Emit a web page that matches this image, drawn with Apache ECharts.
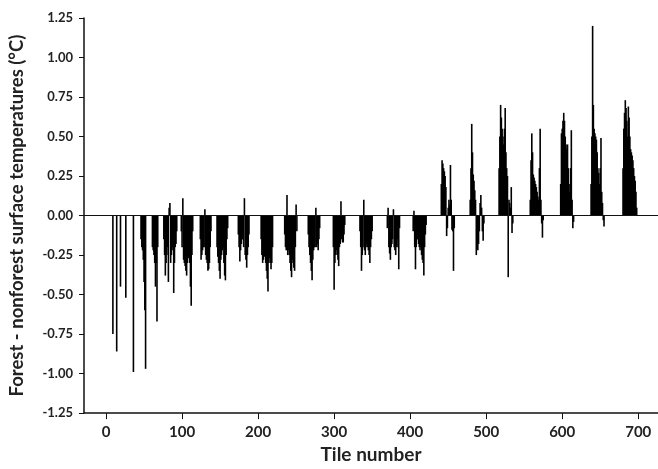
<!DOCTYPE html>
<html>
<head>
<meta charset="utf-8">
<script src="https://cdn.jsdelivr.net/npm/echarts@6/dist/echarts.min.js"></script>
<style>
html,body{margin:0;padding:0;background:#fff;}
#chart{width:658px;height:469px;}
</style>
</head>
<body>
<div id="chart"></div>
<script>
// Tick labels
var xTickValues = [0, 100, 200, 300, 400, 500, 600, 700];
// Each cluster: first tile number, then consecutive tile values (°C)
var clusterStarts = [9, 14, 19, 26, 36, 46, 61, 76, 99, 124, 146, 174, 204, 235, 266, 299, 334, 370, 404, 441, 479, 517, 558, 598, 638, 680];
var clusterValues = [
  [-0.75],
  [-0.86],
  [-0.45],
  [-0.52],
  [-0.99],
  [-0.15, -0.20, -0.22, -0.28, -0.42, -0.60, -0.97],
  [-0.20, -0.22, -0.25, -0.30, -0.45, -0.30, -0.67, -0.20],
  [-0.15, -0.25, -0.38, -0.30, -0.25, -0.20, -0.42, 0.05, 0.08, -0.30, -0.25, -0.20, -0.22, -0.49, -0.30, -0.20, -0.18, -0.10],
  [-0.10, -0.20, 0.11, -0.28, -0.30, -0.32, -0.35, -0.38, -0.30, -0.27, -0.25, -0.30, -0.45, -0.57, -0.25, -0.10],
  [-0.15, -0.28, -0.25, -0.22, -0.20, -0.20, 0.04, -0.25, -0.28, -0.30, -0.35, -0.34, -0.30, -0.20, -0.10],
  [-0.20, -0.26, -0.30, -0.35, -0.40, -0.28, -0.25, -0.22, -0.20, -0.30, -0.38, -0.41, -0.25, -0.15, -0.08],
  [-0.12, -0.20, -0.29, -0.22, -0.18, -0.15, -0.15, -0.20, 0.11, -0.25, -0.28, -0.33, -0.25, -0.20, -0.12],
  [-0.15, -0.25, -0.30, -0.28, -0.26, -0.25, -0.30, -0.35, -0.40, -0.48, -0.30, -0.27, -0.30, -0.34, -0.30, -0.20],
  [-0.12, -0.20, -0.22, 0.13, -0.25, -0.22, -0.25, -0.30, -0.35, -0.39, -0.28, -0.30, -0.33, -0.35, -0.20, 0.07, -0.10],
  [-0.12, -0.20, -0.25, -0.30, -0.35, -0.41, -0.28, -0.22, -0.20, -0.20, 0.05, -0.20, -0.18, -0.22, -0.15, -0.08],
  [-0.20, -0.47, -0.30, -0.25, -0.22, -0.25, -0.28, -0.32, -0.20, -0.18, 0.09, -0.15, -0.17, -0.17, -0.12, -0.06],
  [-0.10, -0.20, -0.35, -0.25, -0.20, 0.10, -0.22, -0.25, -0.20, -0.18, -0.20, -0.22, -0.25, -0.30, -0.20, -0.15, -0.10],
  [-0.08, 0.05, -0.20, -0.24, -0.28, -0.20, -0.18, -0.15, 0.04, -0.20, -0.22, -0.25, -0.20, -0.15, -0.20, -0.34, -0.08],
  [-0.10, 0.03, -0.20, -0.34, -0.20, -0.15, -0.15, -0.18, -0.20, -0.22, -0.20, -0.25, -0.28, -0.30, -0.38, -0.20, -0.12, -0.06],
  [0.20, 0.35, 0.33, 0.30, 0.28, 0.25, 0.18, -0.13, -0.08, 0.05, 0.10, 0.07, 0.32, 0.10, -0.09, -0.10, -0.35, -0.08],
  [0.10, 0.30, 0.58, 0.40, 0.26, 0.22, 0.16, 0.10, -0.25, -0.20, -0.22, -0.18, -0.10, 0.08, 0.13, 0.05, -0.10, -0.16, -0.05],
  [0.30, 0.50, 0.70, 0.62, 0.55, 0.50, 0.45, 0.55, 0.68, 0.40, 0.30, 0.25, -0.39, 0.10, 0.08, 0.05, 0.18, -0.11, -0.05],
  [0.10, 0.35, 0.52, 0.40, 0.26, 0.24, 0.22, 0.20, 0.18, 0.15, 0.12, 0.10, 0.30, 0.55, 0.10, -0.05, -0.14, -0.03],
  [0.20, 0.52, 0.55, 0.60, 0.65, 0.60, 0.50, 0.45, 0.42, 0.45, 0.30, 0.20, 0.15, 0.30, 0.54, 0.10, -0.08, -0.04],
  [0.20, 0.50, 1.20, 0.70, 0.55, 0.52, 0.50, 0.48, 0.40, 0.30, 0.27, 0.20, 0.30, 0.49, 0.15, 0.08, -0.03, -0.07],
  [0.30, 0.55, 0.65, 0.73, 0.68, 0.60, 0.50, 0.69, 0.62, 0.50, 0.42, 0.40, 0.38, 0.35, 0.30, 0.25, 0.22, 0.15, 0.05]
];

var barData = [];
clusterStarts.forEach(function (s, ci) {
  clusterValues[ci].forEach(function (v, i) { barData.push([s + i, v]); });
});

var font = 'Lato, "Open Sans", sans-serif';
var chart = echarts.init(document.getElementById('chart'), null, {renderer: 'canvas'});
chart.setOption({
  animation: false,
  backgroundColor: '#ffffff',
  grid: {left: 84, right: 0, top: 18, bottom: 54, containLabel: false},
  xAxis: {
    type: 'value',
    min: -29, max: 726,
    name: 'Tile number',
    nameLocation: 'middle',
    nameGap: 29,
    nameTextStyle: {fontFamily: font, fontWeight: 'bold', fontSize: 19, color: '#222'},
    axisLine: {show: true, onZero: false, lineStyle: {color: '#111', width: 1.5}},
    axisTick: {show: true, length: 6, customValues: xTickValues, lineStyle: {color: '#111', width: 1}},
    axisLabel: {customValues: xTickValues, fontFamily: font, fontWeight: 'bold', fontSize: 15, color: '#222', margin: 12},
    splitLine: {show: false}
  },
  yAxis: {
    type: 'value',
    min: -1.25, max: 1.25, interval: 0.25,
    name: 'Forest - nonforest surface temperatures (°C)',
    nameLocation: 'middle',
    nameGap: 57,
    nameTextStyle: {fontFamily: font, fontWeight: 'bold', fontSize: 18.5, color: '#222'},
    axisLine: {show: true, onZero: false, lineStyle: {color: '#111', width: 1.5}},
    axisTick: {show: true, length: 5, lineStyle: {color: '#111', width: 1}},
    axisLabel: {fontFamily: font, fontWeight: 'bold', fontSize: 13, color: '#222', margin: 11,
      formatter: function (v) { return v.toFixed(2); }},
    splitLine: {show: false}
  },
  series: [{
    type: 'bar',
    data: barData,
    barWidth: 1.6,
    itemStyle: {color: '#000'},
    markLine: {
      silent: true,
      symbol: 'none',
      label: {show: false},
      lineStyle: {color: '#111', width: 1.2, type: 'solid'},
      data: [{yAxis: 0}]
    }
  }]
});
</script>
</body>
</html>
